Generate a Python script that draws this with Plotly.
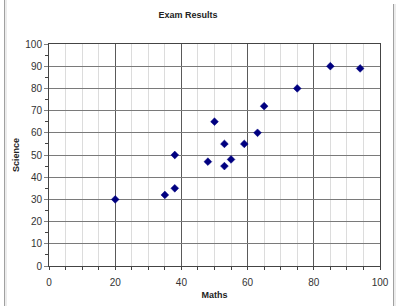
import plotly.graph_objects as go

maths = [20, 35, 38, 38, 48, 50, 53, 53, 55, 59, 63, 65, 75, 85, 94]
science = [30, 32, 35, 50, 47, 65, 55, 45, 48, 55, 60, 72, 80, 90, 89]

x_ticks = [0, 20, 40, 60, 80, 100]
y_ticks = [0, 10, 20, 30, 40, 50, 60, 70, 80, 90, 100]

L, R, T, B = 49, 20, 44, 40
W, H = 400, 306
pw, ph = W - L - R, H - T - B

def px(x):
    return (x - L) / pw

def py(y):
    return (H - B - y) / ph

fig = go.Figure()
fig.add_trace(go.Scatter(
    x=maths, y=science, mode="markers",
    marker=dict(symbol="diamond", size=6, color="#000080",
                line=dict(color="#000080", width=0.5)),
    showlegend=False, hoverinfo="skip"))

font = "Arial, Liberation Sans, sans-serif"
fig.update_layout(
    width=W, height=H,
    margin=dict(l=L, r=R, t=T, b=B),
    paper_bgcolor="white", plot_bgcolor="white",
    font=dict(family=font, size=10, color="#333333"),
    title=dict(text="<b>Exam Results</b>", x=188 / W, xanchor="center",
               y=1 - 15 / H, yanchor="middle", xref="container", yref="container",
               font=dict(size=9, color="#222222", family=font)),
    xaxis=dict(range=[0, 100], tickvals=x_ticks, showgrid=True,
               gridcolor="#5a5a5a", gridwidth=1, automargin=False,
               showline=True, linecolor="#444444", mirror=True,
               ticks="outside", ticklen=3, tickcolor="#444444",
               ticklabelstandoff=4,
               zeroline=False,
               minor=dict(dtick=5, showgrid=True, gridcolor="#dcdcdc",
                          ticks="outside", ticklen=3, tickcolor="#444444"),
               title=dict(text="<b>Maths</b>", standoff=4,
                          font=dict(size=9, color="#222222"))),
    yaxis=dict(range=[0, 100], tickvals=y_ticks, showgrid=True,
               gridcolor="#7a7a7a", gridwidth=1, automargin=False,
               showline=True, linecolor="#444444", mirror=True,
               ticks="outside", ticklen=4, tickcolor="#808080",
               zeroline=False,
               minor=dict(dtick=5, showgrid=False,
                          ticks="outside", ticklen=3, tickcolor="#444444"),
               title=dict(text="<b>Science</b>", standoff=4,
                          font=dict(size=9, color="#222222"))),
    shapes=[
        dict(type="line", xref="paper", yref="paper",
             x0=px(4.5), x1=px(4.5), y0=py(H), y1=py(0),
             line=dict(color="#a0a0a0", width=1)),
        dict(type="line", xref="paper", yref="paper",
             x0=px(6), x1=px(6), y0=py(H), y1=py(0),
             line=dict(color="#d8d8d8", width=1)),
        dict(type="line", xref="paper", yref="paper",
             x0=px(393.5), x1=px(393.5), y0=py(H), y1=py(4),
             line=dict(color="#a0a0a0", width=1)),
        dict(type="line", xref="paper", yref="paper",
             x0=px(395), x1=px(395), y0=py(H), y1=py(4),
             line=dict(color="#d8d8d8", width=1)),
    ],
)

fig.write_html("out.html")
